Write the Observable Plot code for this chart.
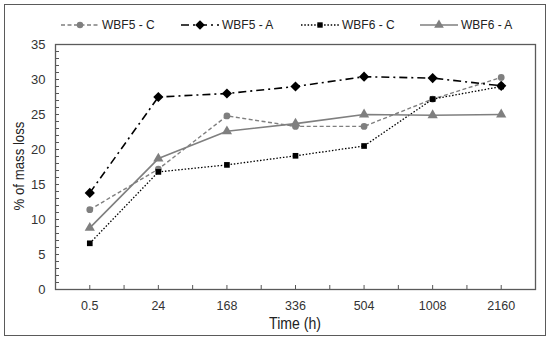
<!DOCTYPE html>
<html><head><meta charset="utf-8">
<script src="https://cdn.jsdelivr.net/npm/d3@7"></script>
<script src="https://cdn.jsdelivr.net/npm/@observablehq/plot@0.6"></script>
<style>
body{margin:0;font-family:"Liberation Sans",Arial,sans-serif;background:#fff}
#wrap{position:relative;width:550px;height:340px;overflow:hidden}
#chart{position:absolute;left:0;top:0}
#border{position:absolute;left:4px;top:4px;width:540px;height:330px;border:1.5px solid #5a5a5a}
.item{position:absolute;top:16px;height:18px;display:flex;align-items:center;font-size:12px;color:#222;white-space:nowrap}
.item svg{margin-right:2px}
#ytitle{position:absolute;left:18px;top:166px;transform:translate(-50%,-50%) rotate(-90deg) scaleX(0.88);font-size:15px;color:#222;white-space:nowrap}
#xtitle{position:absolute;left:295px;top:324px;transform:translate(-50%,-50%) scaleX(0.88);font-size:16px;color:#222;white-space:nowrap}
</style></head><body>
<div id="wrap"><div id="chart"></div><div id="border"></div><div id="legend"></div>
<div id="ytitle">% of mass loss</div><div id="xtitle">Time (h)</div></div>
<script>
const times = ["0.5","24","168","336","504","1008","2160"];
const seriesNames = ["WBF5 - C","WBF5 - A","WBF6 - C","WBF6 - A"];
const wbf5C = [11.4,17.2,24.8,23.3,23.3,27.2,30.3];
const wbf5A = [13.8,27.5,28.0,29.0,30.4,30.2,29.1];
const wbf6C = [6.6,16.8,17.8,19.1,20.5,27.2,29.0];
const wbf6A = [8.8,18.7,22.6,23.7,25.0,24.9,25.0];
const yTicks = [0,5,10,15,20,25,30,35];

const values = [wbf5C, wbf5A, wbf6C, wbf6A];
const styles = [
  {stroke:"#7f7f7f", dash:"4,2.5", width:1.4, symbol:"circle", r:3.4, fill:"#7f7f7f"},
  {stroke:"#000", dash:"8,4,2,4", width:1.6, symbol:"diamond2", r:4.6, fill:"#000"},
  {stroke:"#000", dash:"1.5,1.8", width:1.3, symbol:"square", r:3.2, fill:"#000"},
  {stroke:"#7f7f7f", dash:"none", width:1.6, symbol:"triangle", r:3.8, fill:"#7f7f7f"}
];
const rows = seriesNames.map((s,k)=>values[k].map((v,i)=>({s, i, v})));

const marks = [
  Plot.axisY(d3.range(0,36,1), {tickSize:-4, tickFormat:()=>"", stroke:"#555", label:null}),
  Plot.axisY(yTicks, {tickSize:0, tickPadding:10, fontSize:13, label:null, fill:"#333"}),
  Plot.axisX(d3.range(0,6.01,0.5), {tickSize:-4, tickFormat:()=>"", stroke:"#555", label:null}),
  Plot.axisX(d3.range(0,7), {tickSize:0, tickPadding:12, fontSize:12.5, label:null, tickFormat:i=>times[i], fill:"#333", style:{letterSpacing:"1.6px"}}),
  Plot.frame({stroke:"#5a5a5a", strokeWidth:1.3})
];
rows.forEach((r,k)=>{
  const st = styles[k];
  marks.push(Plot.line(r, {x:"i", y:"v", stroke:st.stroke, strokeWidth:st.width, strokeDasharray:st.dash, strokeLinecap:"butt", className:"series"+k}));
});
rows.forEach((r,k)=>{
  const st = styles[k];
  marks.push(Plot.dot(r, {x:"i", y:"v", symbol:()=>st.symbol, r:st.r, fill:st.fill, stroke:"none"}));
});

const chart = Plot.plot({
  width:550, height:340,
  marginLeft:55, marginRight:15, marginTop:44, marginBottom:51,
  style:{fontFamily:"'Liberation Sans', Arial, sans-serif", background:"transparent"},
  x:{type:"linear", domain:[-0.5,6.5], axis:null, label:null},
  y:{domain:[0,35], axis:null, label:null},
  symbol:{type:"identity"},
  marks
});
styles.forEach((st,k)=>{
  d3.select(chart).selectAll(".series"+k+" path").attr("stroke-dasharray", st.dash).attr("stroke-linecap","butt");
});
document.getElementById("chart").appendChild(chart);

// legend
const legend = document.getElementById("legend");
const lx = [60,180,300,419];
seriesNames.forEach((name,k)=>{
  const st = styles[k];
  const div = document.createElement("div");
  div.className = "item";
  div.style.left = lx[k]+"px";
  const sw = d3.create("svg").attr("width",40).attr("height",18);
  sw.append("line").attr("x1",1).attr("x2",39).attr("y1",9).attr("y2",9)
    .attr("stroke",st.stroke).attr("stroke-width",st.width).attr("stroke-dasharray",st.dash);
  sw.append("path").attr("transform","translate(20,9)")
    .attr("d", d3.symbol(st.symbol==="circle"?d3.symbolCircle:st.symbol==="diamond2"?d3.symbolDiamond2:st.symbol==="square"?d3.symbolSquare:d3.symbolTriangle, Math.PI*st.r*st.r*0.9)())
    .attr("fill",st.fill);
  div.appendChild(sw.node());
  const t = document.createElement("span");
  t.textContent = name;
  div.appendChild(t);
  legend.appendChild(div);
});
</script></body></html>
